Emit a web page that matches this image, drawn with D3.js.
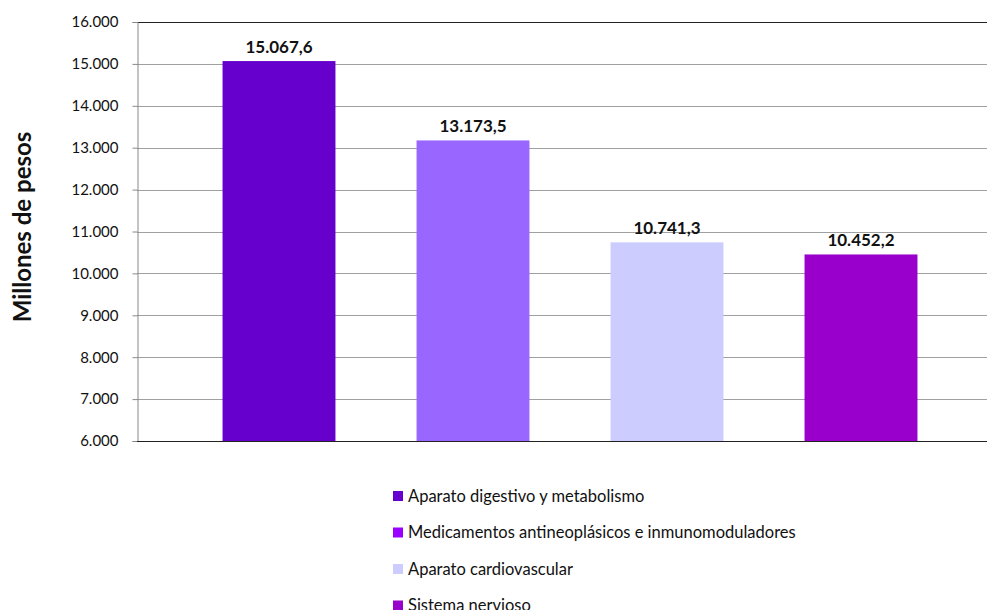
<!doctype html>
<html>
<head>
<meta charset="UTF-8">
<title>Millones de pesos</title>
<script src="https://d3js.org/d3.v7.min.js"></script>
<style>
  body { margin: 0; background: #fff; }
  text { font-family: Lato, "Open Sans", sans-serif; }
</style>
</head>
<body>
<script>
// data
var series = ["Aparato digestivo y metabolismo",
              "Medicamentos antineoplásicos e inmunomoduladores",
              "Aparato cardiovascular",
              "Sistema nervioso"];
var values = [15067.6, 13173.5, 10741.3, 10452.2];
var barColors = ["#6600CC", "#9966FF", "#CCCCFF", "#9900CC"];
var legendColors = ["#6600CC", "#9900FF", "#CCCCFF", "#9900CC"];
var yTicks = [6000, 7000, 8000, 9000, 10000, 11000, 12000, 13000, 14000, 15000, 16000];

var w = 987, h = 610;
var padL = 137, padR = 1003, padT = 22, padB = 441; // plot area edges (right goes past the window)

var loc = d3.formatLocale({decimal: ",", thousands: ".", grouping: [3], currency: ["$", ""]});
var fmtTick = loc.format(",.0f");
var fmtVal = loc.format(",.1f");

var svg = d3.select("body").append("svg").attr("width", w).attr("height", h);

var y = d3.scaleLinear().domain([6000, 16000]).range([padB, padT]);
var x = d3.scaleBand().domain(series).range([padL, padR])
          .paddingInner(0.418).paddingOuter(0.441);

// gridlines
svg.selectAll("line.grid").data(yTicks.slice(1, -1)).enter().append("line")
   .attr("class", "grid")
   .attr("x1", padL).attr("x2", w)
   .attr("y1", function(d){ return Math.round(y(d)) + 0.5; })
   .attr("y2", function(d){ return Math.round(y(d)) + 0.5; })
   .attr("stroke", "#a0a0a0").attr("stroke-width", 1);

// top border
svg.append("line").attr("x1", padL).attr("x2", w)
   .attr("y1", Math.round(y(16000)) + 0.5).attr("y2", Math.round(y(16000)) + 0.5)
   .attr("stroke", "#222");

// bars
svg.selectAll("rect.bar").data(values).enter().append("rect")
   .attr("class", "bar")
   .attr("x", function(d, i){ return x(series[i]); })
   .attr("y", function(d){ return y(d); })
   .attr("width", x.bandwidth())
   .attr("height", function(d){ return padB - y(d); })
   .attr("fill", function(d, i){ return barColors[i]; });

// value labels
svg.selectAll("text.val").data(values).enter().append("text")
   .attr("class", "val")
   .attr("x", function(d, i){ return x(series[i]) + x.bandwidth() / 2; })
   .attr("y", function(d){ return y(d) - 8.5; })
   .attr("text-anchor", "middle")
   .attr("font-size", 17).attr("font-weight", "bold").attr("fill", "#111")
   .text(function(d){ return fmtVal(d); });

// y axis
var axis = svg.append("g").attr("transform", "translate(" + (padL + 0.5) + ",0)")
   .call(d3.axisLeft(y).tickValues(yTicks).tickFormat(fmtTick).tickSize(5).tickPadding(14));
axis.select(".domain").attr("stroke", "#888");
axis.selectAll(".tick line").attr("stroke", "#888");
axis.selectAll(".tick text").attr("font-size", 15).attr("fill", "#111")
    .attr("font-family", "Lato, 'Open Sans', sans-serif");

// bottom axis line
svg.append("line").attr("x1", padL).attr("x2", w)
   .attr("y1", padB + 0.5).attr("y2", padB + 0.5)
   .attr("stroke", "#222");

// y title
svg.append("text")
   .attr("transform", "translate(31,227) rotate(-90)")
   .attr("text-anchor", "middle")
   .attr("font-size", 24).attr("font-weight", "bold").attr("fill", "#111")
   .text("Millones de pesos");

// legend
var leg = svg.selectAll("g.leg").data(series).enter().append("g")
   .attr("class", "leg")
   .attr("transform", function(d, i){ return "translate(393," + (491 + i * 36.5) + ")"; });
leg.append("rect").attr("width", 10).attr("height", 10)
   .attr("fill", function(d, i){ return legendColors[i]; });
leg.append("text").attr("x", 15).attr("y", 10.5)
   .attr("font-size", 16.5).attr("fill", "#111")
   .text(function(d){ return d; });
</script>
</body>
</html>
